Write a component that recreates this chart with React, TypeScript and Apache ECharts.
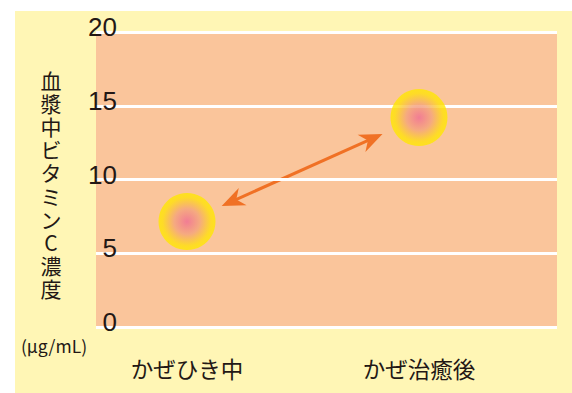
import React, { useEffect, useRef } from "react";
import * as echarts from "echarts";

const categories = ["かぜひき中", "かぜ治癒後"];
const vitaminC = [7.15, 14.2];
const yTicks = [0, 5, 10, 15, 20];
const yTitle = "血漿中ビタミンC濃度";
const unitLabel = "(μg/mL)";

const YELLOW = "#FFF6B5";
const ORANGE = "#FAC59B";
const ARROW = "#F07125";
const TEXT = "#231815";

export default function App() {
  const ref = useRef<HTMLDivElement>(null);

  useEffect(() => {
    document.body.style.margin = "0";
    const chart = echarts.init(ref.current!, undefined, { renderer: "svg" });

    const gridTop = 32;
    const gridBottom = 393 - 327;

    const option: any = {
      animation: false,
      backgroundColor: "#ffffff",
      graphic: [
        {
          type: "rect",
          z: -10,
          silent: true,
          shape: { x: 15, y: 11, width: 557, height: 382 },
          style: { fill: YELLOW },
        },
        {
          type: "text",
          x: 51,
          y: 184,
          style: {
            text: yTitle.split("").join("\n"),
            fontSize: 21,
            lineHeight: 23.2,
            fontFamily: "Noto Sans CJK JP",
            fill: TEXT,
            align: "center",
            verticalAlign: "middle",
          },
        },
        {
          type: "text",
          x: 54,
          y: 345,
          style: {
            text: unitLabel,
            fontSize: 17.5,
            fontFamily: "Noto Sans CJK JP",
            fill: TEXT,
            align: "center",
            verticalAlign: "middle",
          },
        },
      ],
      grid: [
        {
          left: 96,
          right: 572 - 557,
          top: gridTop,
          bottom: gridBottom,
          show: true,
          backgroundColor: ORANGE,
          borderWidth: 0,
        },
        {
          left: 71,
          width: 464,
          top: gridTop,
          bottom: gridBottom,
        },
      ],
      xAxis: [
        { type: "category", gridIndex: 0, show: false, data: categories },
        {
          type: "category",
          gridIndex: 1,
          data: categories,
          axisLine: { show: false },
          axisTick: { show: false },
          axisLabel: {
            margin: 41,
            fontSize: 22.5,
            color: TEXT,
            fontFamily: "Noto Sans CJK JP",
            verticalAlign: "middle",
          },
        },
      ],
      yAxis: [
        {
          type: "value",
          gridIndex: 0,
          min: yTicks[0],
          max: yTicks[yTicks.length - 1],
          interval: 5,
          axisLine: { show: false },
          axisTick: { show: false },
          splitLine: { lineStyle: { color: "#ffffff", width: 3 } },
          axisLabel: {
            inside: true,
            align: "right",
            margin: 21,
            fontSize: 26,
            color: TEXT,
            fontFamily: "Liberation Sans",
            verticalAlign: "bottom",
            lineHeight: 10,
          },
          z: 3,
        },
        {
          type: "value",
          gridIndex: 1,
          min: yTicks[0],
          max: yTicks[yTicks.length - 1],
          show: false,
        },
      ],
      series: [
        {
          type: "custom",
          xAxisIndex: 1,
          yAxisIndex: 1,
          data: [[0, vitaminC[0], 1, vitaminC[1]]],
          z: 2,
          renderItem: (params: any, api: any) => {
            const p1 = api.coord([api.value(0), api.value(1)]);
            const p2 = api.coord([api.value(2), api.value(3)]);
            const dx = p2[0] - p1[0];
            const dy = p2[1] - p1[1];
            const len = Math.sqrt(dx * dx + dy * dy);
            const ux = dx / len;
            const uy = dy / len;
            const nx = -uy;
            const ny = ux;
            const gap1 = 38;
            const gap2 = 40;
            const a = [p1[0] + ux * gap1, p1[1] + uy * gap1];
            const b = [p2[0] - ux * gap2, p2[1] - uy * gap2];
            const headLen = 23;
            const notch = 16;
            const halfW = 9.5;
            const head = (tip: number[], dirx: number, diry: number) => [
              tip,
              [tip[0] + dirx * headLen + nx * halfW, tip[1] + diry * headLen + ny * halfW],
              [tip[0] + dirx * notch, tip[1] + diry * notch],
              [tip[0] + dirx * headLen - nx * halfW, tip[1] + diry * headLen - ny * halfW],
            ];
            return {
              type: "group",
              children: [
                {
                  type: "line",
                  shape: {
                    x1: a[0] + ux * 12,
                    y1: a[1] + uy * 12,
                    x2: b[0] - ux * 12,
                    y2: b[1] - uy * 12,
                  },
                  style: { stroke: ARROW, lineWidth: 3 },
                },
                {
                  type: "polygon",
                  shape: { points: head(a, ux, uy) },
                  style: { fill: ARROW },
                },
                {
                  type: "polygon",
                  shape: { points: head(b, -ux, -uy) },
                  style: { fill: ARROW },
                },
              ],
            };
          },
        },
        {
          type: "scatter",
          xAxisIndex: 1,
          yAxisIndex: 1,
          data: vitaminC,
          symbol: "circle",
          symbolSize: 57,
          z: 3,
          itemStyle: {
            color: new echarts.graphic.RadialGradient(0.5, 0.5, 0.5, [
              { offset: 0, color: "#EF6B92" },
              { offset: 0.45, color: "#F4A37A" },
              { offset: 0.85, color: "#FFE10A" },
              { offset: 1, color: "#FFE800" },
            ]),
          },
        },
      ],
    };

    chart.setOption(option);
    return () => chart.dispose();
  }, []);

  return <div ref={ref} style={{ width: 572, height: 393 }} />;
}
